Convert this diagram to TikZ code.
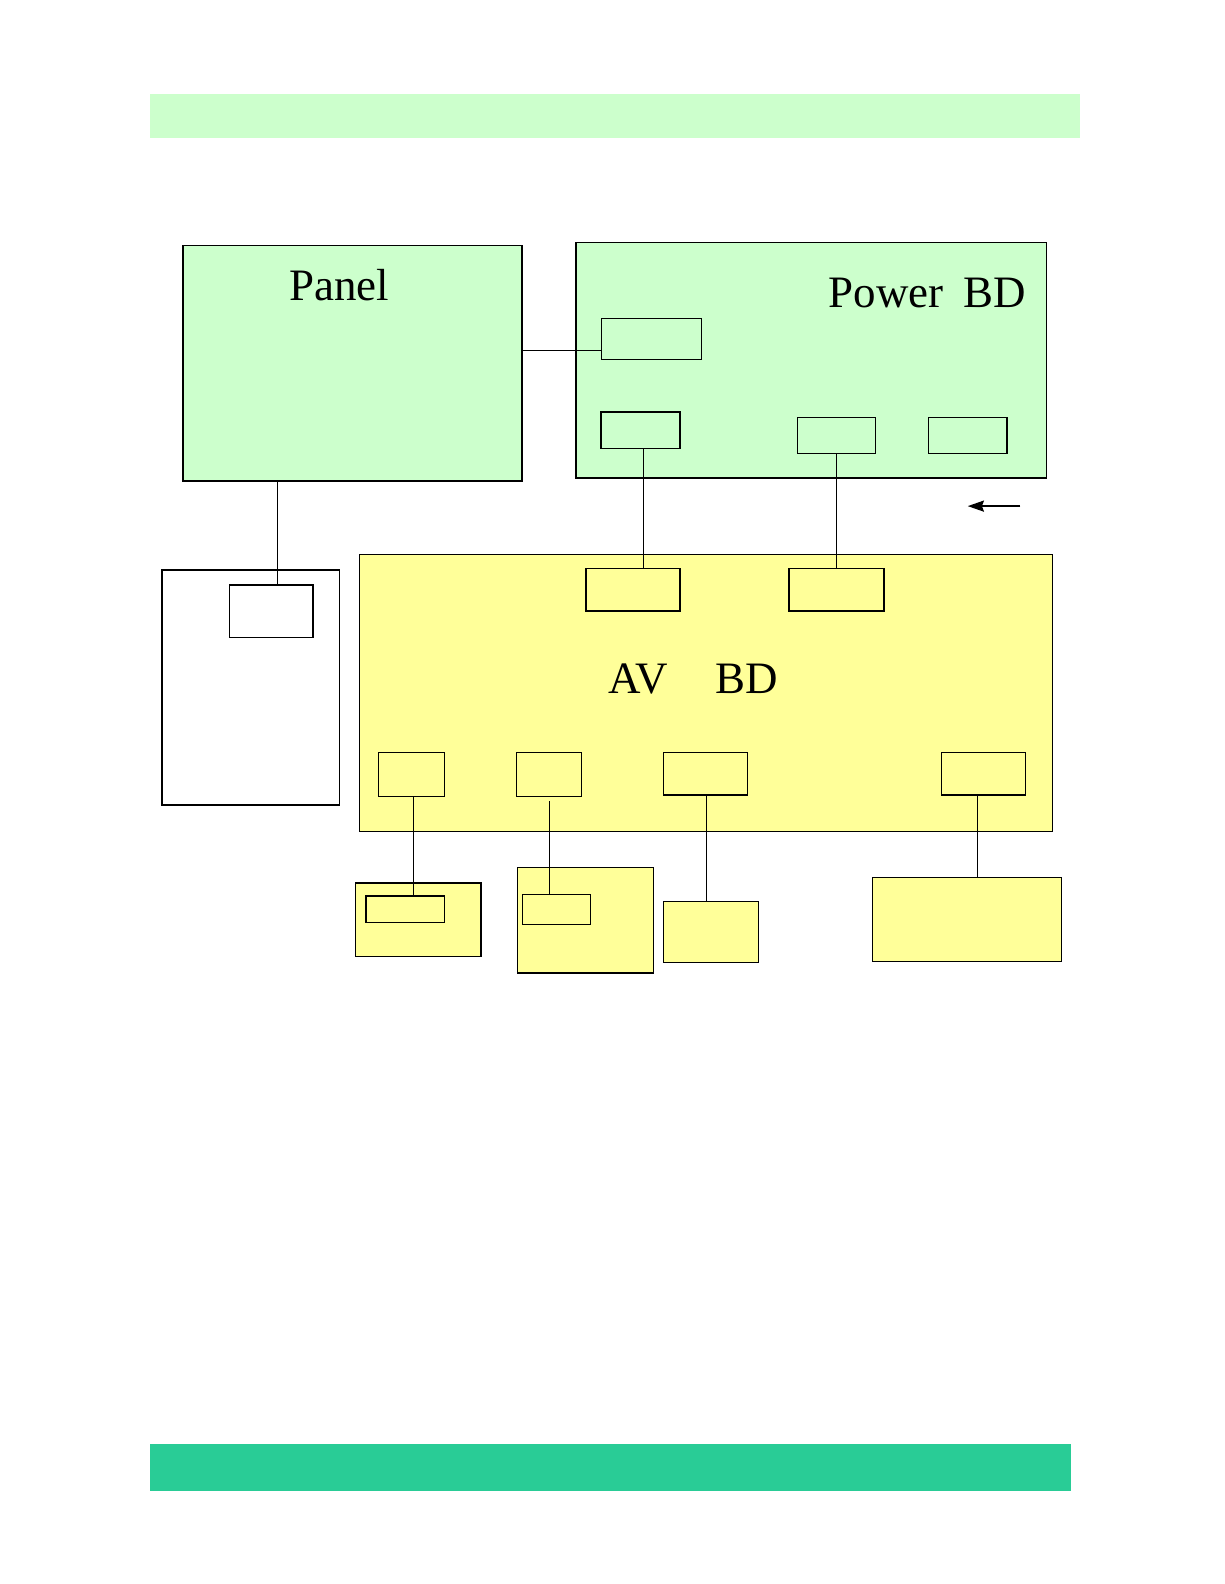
\documentclass[tikz,border=0pt]{standalone}
\usepackage{fontspec}
\setmainfont{Liberation Serif}
\usetikzlibrary{arrows.meta}
\definecolor{lgreen}{HTML}{CCFFCC}
\definecolor{lyellow}{HTML}{FFFF99}
\definecolor{teal2}{HTML}{29CC96}
\tikzset{
  box/.style={draw=black, line width=1pt, inner sep=0pt, outer sep=0pt, anchor=north west},
  gbox/.style={box, fill=lgreen},
  ybox/.style={box, fill=lyellow},
  wire/.style={draw=black, line width=0.9pt},
  lbl/.style={font=\fontsize{44.5}{50}\selectfont, inner sep=0pt}
}
\begin{document}
\begin{tikzpicture}[x=1pt,y=-1pt]
\useasboundingbox (0,0) rectangle (1212,1568);
% bands
\fill[lgreen] (148,93) rectangle (1069,137);
\fill[teal2] (148,1429) rectangle (1060,1476);
% panel
\node[gbox, line width=1.8pt, minimum width=336pt, minimum height=233pt] (panel) at (181,243) {};
\node[lbl, anchor=base] (paneltxt) at (336,297) {Panel};
% power board
\node[gbox, line width=1.4pt, minimum width=466pt, minimum height=233pt] (power) at (570,240) {};
\node[lbl, anchor=base east] (powertxt) at (1016,304) {Power\hspace{20pt}BD};
\node[gbox, minimum width=99pt, minimum height=41pt] (cA) at (595,315) {};
\node[gbox, line width=1.4pt, minimum width=78pt, minimum height=36pt] (cB) at (595,408) {};
\node[gbox, minimum width=78pt, minimum height=36pt] (cC) at (789,413) {};
\node[gbox, line width=1.4pt, minimum width=78pt, minimum height=36pt] (cD) at (919,413) {};
% arrow
\coordinate (arrS) at (1010,501);
\coordinate (arrE) at (958,501);
\draw[wire, line width=1.6pt, -{Stealth[length=16pt,width=11pt,inset=2pt]}] (arrS) -- (arrE);
% AV board
\node[ybox, minimum width=686pt, minimum height=274pt] (av) at (356,549) {};
\node[lbl, anchor=base] (avtxt) at (686.5,686) {AV\hspace{47pt}BD};
\node[ybox, line width=1.4pt, minimum width=93pt, minimum height=42pt] (cE) at (580,563) {};
\node[ybox, line width=1.4pt, minimum width=94pt, minimum height=42pt] (cF) at (781,563) {};
\node[ybox, minimum width=65pt, minimum height=43pt] (cG) at (375,745) {};
\node[ybox, minimum width=65pt, minimum height=43pt] (cH) at (511,745) {};
\node[ybox, line width=1.4pt, minimum width=83pt, minimum height=42pt] (cI) at (657,745) {};
\node[ybox, line width=1.4pt, minimum width=83pt, minimum height=42pt] (cJ) at (932,745) {};
% left white box
\node[box, line width=1.8pt, fill=white, minimum width=176pt, minimum height=233pt] (lbox) at (160,564) {};
\node[box, line width=1.6pt, fill=white, minimum width=83pt, minimum height=52pt] (lin) at (227,579) {};
% bottom boxes
\node[ybox, line width=1.4pt, minimum width=124pt, minimum height=73pt] (bK) at (352,874) {};
\node[ybox, line width=1.6pt, minimum width=78pt, minimum height=26pt] (kin) at (362,887) {};
\node[ybox, line width=1.4pt, minimum width=135pt, minimum height=104pt] (bL) at (512,859) {};
\node[ybox, minimum width=68pt, minimum height=30pt] (lin2) at (517,885) {};
\node[ybox, line width=1.2pt, minimum width=94pt, minimum height=61pt] (bM) at (657,892) {};
\node[ybox, line width=1.2pt, minimum width=187pt, minimum height=83pt] (bN) at (864,869) {};
% wires
\coordinate (yA) at (0,347);
\draw[wire] (panel.east |- yA) -- (cA.west |- yA);
\coordinate (xPan) at (275,0);
\draw[wire] (panel.south -| xPan) -- (lin.north -| xPan);
\coordinate (xB) at (637,0);
\draw[wire] (cB.south -| xB) -- (cE.north -| xB);
\coordinate (xC) at (828,0);
\draw[wire] (cC.south -| xC) -- (cF.north -| xC);
\coordinate (xG) at (409,0);
\draw[wire] (cG.south -| xG) -- (kin.north -| xG);
\coordinate (hGap) at (544,793);
\draw[wire] (hGap) -- (lin2.north -| hGap);
\coordinate (xI) at (699,0);
\draw[wire] (cI.south -| xI) -- (bM.north -| xI);
\coordinate (xJ) at (968,0);
\draw[wire] (cJ.south -| xJ) -- (bN.north -| xJ);
\end{tikzpicture}
\end{document}
